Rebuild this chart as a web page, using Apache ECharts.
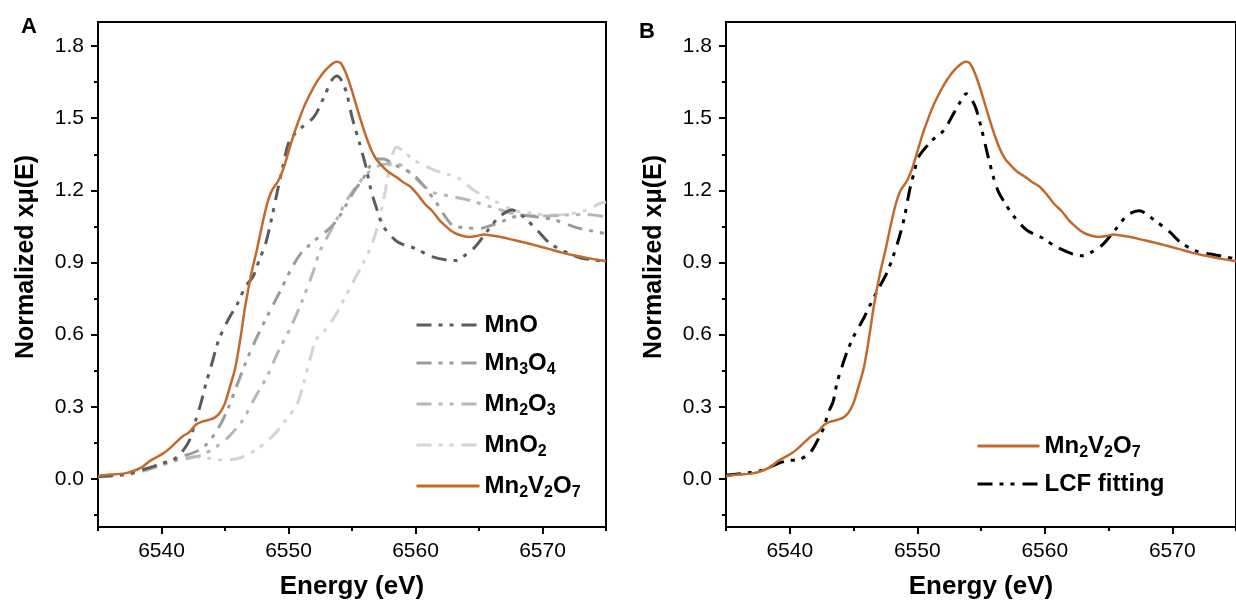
<!DOCTYPE html>
<html>
<head>
<meta charset="utf-8">
<title>Mn K-edge XANES</title>
<script src="https://cdn.jsdelivr.net/npm/echarts@6/dist/echarts.min.js"></script>
<style>
  html, body { margin: 0; padding: 0; background: #fff; }
  #chart { width: 1236px; height: 607px; }
</style>
</head>
<body>
<div id="chart"></div>
<script>
// ---- Tick values ----
const xMajorTicks = [6540, 6550, 6560, 6570];
const xMinorTicks = [6535, 6545, 6555, 6565, 6575];
const yMajorTicks = [0.0, 0.3, 0.6, 0.9, 1.2, 1.5, 1.8];
const yMinorTicks = [-0.15, 0.15, 0.45, 0.75, 1.05, 1.35, 1.65];

// ---- Mn2V2O7 sample spectrum ----
const sampleE = [6535.0, 6536.0, 6537.0, 6537.9, 6538.5, 6539.1, 6540.1, 6540.6, 6541.1, 6541.7,
  6542.2, 6542.7, 6543.2, 6543.7, 6544.2, 6544.6, 6545.0, 6545.4, 6545.8, 6546.2,
  6546.6, 6547.1, 6547.5, 6547.9, 6548.3, 6548.7, 6549.2, 6549.6, 6550.0, 6550.4,
  6550.8, 6551.2, 6551.6, 6552.1, 6552.6, 6553.1, 6553.5, 6553.8, 6554.1, 6554.5,
  6554.9, 6555.3, 6555.7, 6556.1, 6556.5, 6556.9, 6557.4, 6557.9, 6558.5, 6559.0,
  6559.6, 6560.2, 6560.8, 6561.3, 6561.9, 6562.4, 6563.0, 6563.6, 6564.2, 6564.8,
  6565.4, 6566.0, 6566.8, 6567.6, 6568.4, 6569.2, 6570.0, 6570.8, 6571.6, 6572.4,
  6573.2, 6574.0, 6575.0];
const sampleMu = [0.012, 0.018, 0.022, 0.035, 0.050, 0.075, 0.105, 0.125, 0.150, 0.178,
  0.195, 0.225, 0.238, 0.245, 0.255, 0.275, 0.315, 0.385, 0.460, 0.580,
  0.720, 0.860, 0.950, 1.050, 1.140, 1.200, 1.240, 1.290, 1.360, 1.430,
  1.490, 1.545, 1.590, 1.640, 1.680, 1.710, 1.728, 1.735, 1.730, 1.690,
  1.630, 1.560, 1.490, 1.425, 1.370, 1.330, 1.300, 1.275, 1.255, 1.235,
  1.215, 1.180, 1.140, 1.115, 1.075, 1.050, 1.025, 1.012, 1.006, 1.010,
  1.016, 1.012, 1.005, 0.995, 0.985, 0.975, 0.963, 0.952, 0.940, 0.930,
  0.922, 0.914, 0.905];

// ---- MnO reference ----
const mnoE = [6535.0, 6536.5, 6537.5, 6538.5, 6539.3, 6540.0, 6540.9, 6541.5, 6542.2, 6542.7,
  6543.1, 6543.5, 6543.9, 6544.5, 6545.3, 6546.0, 6546.6, 6547.2, 6547.7, 6548.2,
  6548.7, 6549.1, 6549.6, 6550.0, 6550.5, 6551.1, 6552.0, 6552.8, 6553.4, 6553.8,
  6554.2, 6554.6, 6555.0, 6555.6, 6556.1, 6556.5, 6556.9, 6557.5, 6558.4, 6559.0,
  6560.0, 6561.2, 6562.5, 6563.2, 6563.8, 6564.7, 6565.8, 6566.6, 6567.6, 6568.5,
  6569.7, 6570.6, 6572.1, 6573.1, 6575.0];
const mnoMu = [0.010, 0.015, 0.022, 0.038, 0.051, 0.065, 0.079, 0.105, 0.160, 0.245,
  0.314, 0.397, 0.467, 0.577, 0.667, 0.730, 0.799, 0.840, 0.910, 0.979,
  1.090, 1.190, 1.310, 1.396, 1.435, 1.464, 1.505, 1.588, 1.658, 1.675,
  1.655, 1.600, 1.505, 1.395, 1.297, 1.200, 1.131, 1.048, 0.993, 0.975,
  0.958, 0.926, 0.910, 0.908, 0.926, 0.965, 1.041, 1.090, 1.118, 1.090,
  1.028, 0.979, 0.937, 0.917, 0.905];

// ---- Mn3O4 reference ----
const mn3o4E = [6535.0, 6537.0, 6538.5, 6540.0, 6541.0, 6541.6, 6542.7, 6543.5, 6544.4, 6545.2,
  6545.8, 6546.6, 6547.4, 6548.3, 6549.25, 6550.3, 6551.0, 6551.5, 6552.1, 6553.3,
  6554.0, 6554.6, 6555.2, 6555.8, 6556.4, 6556.9, 6557.5, 6558.2, 6558.7, 6559.7,
  6560.5, 6561.6, 6562.9, 6564.0, 6565.0, 6566.0, 6567.1, 6568.4, 6569.5, 6571.0,
  6572.6, 6574.0, 6575.0];
const mn3o4Mu = [0.010, 0.018, 0.035, 0.060, 0.078, 0.093, 0.113, 0.141, 0.204, 0.287,
  0.370, 0.480, 0.577, 0.674, 0.771, 0.882, 0.940, 0.965, 0.993, 1.045,
  1.090, 1.145, 1.200, 1.242, 1.300, 1.330, 1.330, 1.310, 1.297, 1.270,
  1.228, 1.152, 1.055, 1.045, 1.041, 1.055, 1.076, 1.097, 1.090, 1.076,
  1.046, 1.030, 1.020];

// ---- Mn2O3 reference ----
const mn2o3E = [6535.0, 6537.0, 6538.5, 6540.0, 6541.0, 6542.0, 6543.2, 6544.3, 6545.3, 6546.4,
  6547.4, 6548.3, 6549.25, 6550.2, 6551.1, 6551.9, 6552.5, 6553.2, 6554.0, 6554.6,
  6555.4, 6556.2, 6557.0, 6557.7, 6558.4, 6559.0, 6560.0, 6561.3, 6562.8, 6564.2,
  6566.3, 6567.9, 6569.7, 6571.8, 6573.4, 6575.0];
const mn2o3Mu = [0.010, 0.018, 0.035, 0.060, 0.075, 0.085, 0.100, 0.134, 0.176, 0.245,
  0.342, 0.425, 0.536, 0.633, 0.744, 0.855, 0.950, 1.020, 1.100, 1.160,
  1.220, 1.270, 1.300, 1.310, 1.310, 1.300, 1.250, 1.194, 1.175, 1.159,
  1.125, 1.101, 1.093, 1.097, 1.100, 1.090];

// ---- MnO2 reference ----
const mno2E = [6535.0, 6537.0, 6538.5, 6540.0, 6541.0, 6542.0, 6542.7, 6543.7, 6544.8, 6546.1,
  6547.4, 6548.7, 6549.8, 6550.7, 6551.2, 6551.7, 6552.2, 6552.9, 6553.7, 6554.5,
  6555.2, 6555.9, 6556.6, 6557.2, 6557.7, 6558.1, 6558.5, 6559.0, 6559.9, 6561.5,
  6563.4, 6564.6, 6566.1, 6567.7, 6569.2, 6570.8, 6572.4, 6573.6, 6574.5, 6575.0];
const mno2Mu = [0.008, 0.015, 0.030, 0.055, 0.075, 0.088, 0.093, 0.086, 0.079, 0.086,
  0.120, 0.176, 0.245, 0.314, 0.400, 0.500, 0.580, 0.620, 0.680, 0.760,
  0.830, 0.900, 0.979, 1.090, 1.220, 1.330, 1.380, 1.365, 1.325, 1.284,
  1.250, 1.200, 1.159, 1.118, 1.104, 1.097, 1.104, 1.120, 1.145, 1.150];

// ---- Linear combination fit ----
const lcfE = [6535.0, 6536.8, 6537.9, 6539.1, 6539.9, 6540.8, 6541.6, 6542.2, 6542.7, 6543.0,
  6543.4, 6543.7, 6544.1, 6544.5, 6545.0, 6545.8, 6546.3, 6546.9, 6547.6, 6548.1,
  6548.6, 6549.0, 6549.4, 6549.8, 6550.1, 6551.2, 6552.1, 6552.7, 6553.3, 6553.85,
  6554.5, 6555.0, 6555.5, 6556.0, 6556.4, 6556.9, 6557.6, 6558.6, 6559.9, 6560.8,
  6562.2, 6563.0, 6563.7, 6564.5, 6565.5, 6566.5, 6567.4, 6568.6, 6569.8, 6570.6,
  6571.9, 6573.4, 6575.0];
const lcfMu = [0.015, 0.026, 0.037, 0.065, 0.076, 0.082, 0.109, 0.162, 0.217, 0.273,
  0.321, 0.398, 0.467, 0.529, 0.591, 0.668, 0.723, 0.785, 0.855, 0.924,
  1.007, 1.090, 1.200, 1.284, 1.339, 1.409, 1.450, 1.505, 1.561, 1.602,
  1.554, 1.464, 1.353, 1.250, 1.190, 1.145, 1.090, 1.034, 1.000, 0.968,
  0.935, 0.928, 0.944, 0.972, 1.034, 1.097, 1.115, 1.076, 1.027, 0.986,
  0.947, 0.931, 0.915];

const FONT = '"Liberation Sans", Arial, sans-serif';
const DASH_DOT_DOT = [15, 7, 4, 7, 4, 8];

function pairs(e, v) { return e.map((x, i) => [x, v[i]]); }

// chemical formula -> rich text with subscript digits
function formula(name) {
  return name.replace(/(\d+)|([^\d]+)/g, (m, d, t) => d ? '{s|' + d + '}' : '{a|' + t + '}');
}

const legendRich = {
  a: { fontSize: 24, fontWeight: 'bold', fontFamily: FONT, color: '#000', lineHeight: 30 },
  s: { fontSize: 16, fontWeight: 'bold', fontFamily: FONT, color: '#000', lineHeight: 12, verticalAlign: 'bottom' }
};

function xAxes(gridIndex) {
  return [{
    type: 'value', gridIndex, min: 6535, max: 6575, position: 'bottom',
    axisLine: { show: true, onZero: false, lineStyle: { color: '#000', width: 2 } },
    axisTick: { show: true, inside: false, customValues: xMajorTicks, length: 7, lineStyle: { color: '#000', width: 2 } },
    axisLabel: { customValues: xMajorTicks, fontSize: 21, color: '#000', fontFamily: FONT, margin: 14,
      formatter: v => String(Math.round(v)) },
    splitLine: { show: false },
    name: 'Energy (eV)', nameLocation: 'middle', nameGap: 47,
    nameTextStyle: { fontSize: 26, fontWeight: 'bold', color: '#000', fontFamily: FONT }
  }, {
    type: 'value', gridIndex, min: 6535, max: 6575, position: 'bottom',
    axisLine: { show: false, onZero: false },
    axisTick: { show: true, inside: false, customValues: xMinorTicks, length: 4, lineStyle: { color: '#000', width: 2 } },
    axisLabel: { show: false }, splitLine: { show: false }
  }];
}

function yAxes(gridIndex) {
  return [{
    type: 'value', gridIndex, min: -0.2, max: 1.9, position: 'left',
    axisLine: { show: true, onZero: false, lineStyle: { color: '#000', width: 2 } },
    axisTick: { show: true, inside: false, customValues: yMajorTicks, length: 7, lineStyle: { color: '#000', width: 2 } },
    axisLabel: { customValues: yMajorTicks, fontSize: 21, color: '#000', fontFamily: FONT, margin: 14,
      formatter: v => Number(v).toFixed(1) },
    splitLine: { show: false }
  }, {
    type: 'value', gridIndex, min: -0.2, max: 1.9, position: 'left',
    axisLine: { show: false, onZero: false },
    axisTick: { show: true, inside: false, customValues: yMinorTicks, length: 4, lineStyle: { color: '#000', width: 2 } },
    axisLabel: { show: false }, splitLine: { show: false }
  }];
}

function curve(name, e, v, color, width, type, xi, yi) {
  return {
    name, type: 'line', xAxisIndex: xi, yAxisIndex: yi,
    data: pairs(e, v), showSymbol: false, symbol: 'none', smooth: 0.3,
    lineStyle: { color, width, type, cap: 'butt' }, itemStyle: { color },
    emphasis: { disabled: true }, animation: false
  };
}

const ORANGE = '#c2692c';

const legendBase = {
  orient: 'vertical', padding: 0, itemHeight: 14,
  formatter: formula, textStyle: { rich: legendRich }, selectedMode: false,
  itemStyle: { opacity: 0 }, lineStyle: { width: 3 }
};

const option = {
  backgroundColor: '#fff',
  animation: false,
  grid: [
    { left: 98, top: 22, width: 508, height: 505, show: true, borderColor: '#000', borderWidth: 2, backgroundColor: 'transparent' },
    { left: 726, top: 22, width: 521, height: 505, show: true, borderColor: '#000', borderWidth: 2, backgroundColor: 'transparent' }
  ],
  xAxis: [...xAxes(0), ...xAxes(1)],
  yAxis: [...yAxes(0), ...yAxes(1)],
  legend: [
    Object.assign({}, legendBase, {
      left: 415, top: 313, itemWidth: 63, itemGap: 14,
      data: ['MnO', 'Mn3O4', 'Mn2O3', 'MnO2', 'Mn2V2O7']
    }),
    Object.assign({}, legendBase, {
      left: 976, top: 434, itemWidth: 62, itemGap: 11,
      data: ['Mn2V2O7', 'LCF fitting']
    })
  ],
  graphic: [
    { type: 'text', left: 21, top: 16, style: { text: 'A', font: 'bold 22px ' + FONT, fill: '#000' } },
    { type: 'text', left: 639, top: 21, style: { text: 'B', font: 'bold 22px ' + FONT, fill: '#000' } },
    { type: 'text', x: 26, y: 257, rotation: Math.PI / 2,
      style: { text: 'Normalized xμ(E)', font: 'bold 25px ' + FONT, fill: '#000', align: 'center', verticalAlign: 'middle' } },
    { type: 'text', x: 654, y: 257, rotation: Math.PI / 2,
      style: { text: 'Normalized xμ(E)', font: 'bold 25px ' + FONT, fill: '#000', align: 'center', verticalAlign: 'middle' } }
  ],
  series: [
    curve('MnO2', mno2E, mno2Mu, '#d4d4d4', 3, DASH_DOT_DOT, 0, 0),
    curve('Mn2O3', mn2o3E, mn2o3Mu, '#b7b7b7', 3, DASH_DOT_DOT, 0, 0),
    curve('Mn3O4', mn3o4E, mn3o4Mu, '#9c9c9c', 3, DASH_DOT_DOT, 0, 0),
    curve('MnO', mnoE, mnoMu, '#5c5c5c', 3, DASH_DOT_DOT, 0, 0),
    curve('Mn2V2O7', sampleE, sampleMu, ORANGE, 2.5, 'solid', 0, 0),
    curve('LCF fitting', lcfE, lcfMu, '#000', 3, DASH_DOT_DOT, 2, 2),
    curve('Mn2V2O7', sampleE, sampleMu, ORANGE, 2.5, 'solid', 2, 2)
  ]
};

const chart = echarts.init(document.getElementById('chart'), null, { renderer: 'canvas' });
chart.setOption(option);
</script>
</body>
</html>
